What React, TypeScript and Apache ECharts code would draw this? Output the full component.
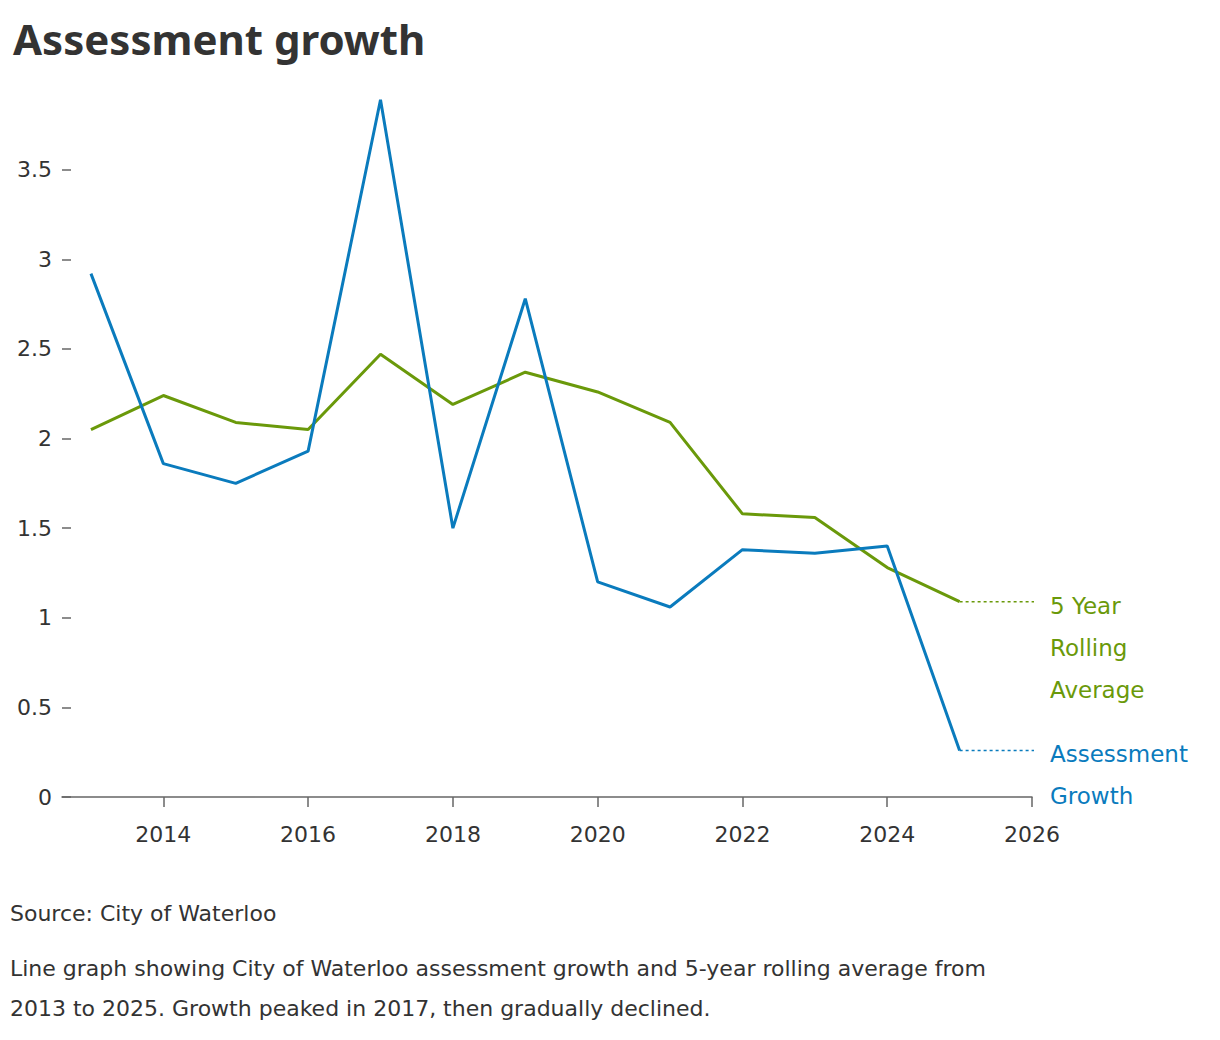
import React, { useEffect, useRef } from 'react';
import * as echarts from 'echarts';

const years = [2013, 2014, 2015, 2016, 2017, 2018, 2019, 2020, 2021, 2022, 2023, 2024, 2025];
const growth = [2.92, 1.86, 1.75, 1.93, 3.89, 1.5, 2.78, 1.2, 1.06, 1.38, 1.36, 1.4, 0.26];
const rolling = [2.05, 2.24, 2.09, 2.05, 2.47, 2.19, 2.37, 2.26, 2.09, 1.58, 1.56, 1.28, 1.09];
const yearTicks = [2014, 2016, 2018, 2020, 2022, 2024, 2026];
const leaderEnd = 2026.16;

const BLUE = '#0a7bbd';
const GREEN = '#6a990a';
const FONT = 'DejaVu Sans';

const App = () => {
  const chartRef = useRef<HTMLDivElement>(null);

  useEffect(() => {
    if (!chartRef.current) return;
    const chart = echarts.init(chartRef.current, null, { renderer: 'svg' });

    const last = years.length - 1;
    const leader = (vals: number[], color: string, text: string) => ({
      type: 'line',
      symbol: 'none',
      silent: true,
      lineStyle: { color, width: 1.5, type: [3, 3] },
      data: [[years[last], vals[last]], [leaderEnd, vals[last]]],
      endLabel: {
        show: true,
        formatter: text,
        color,
        fontFamily: FONT,
        fontSize: 23,
        lineHeight: 42,
        align: 'left',
        verticalAlign: 'top',
        distance: 16,
        offset: [0, -17],
      },
    });

    const option = {
      animation: false,
      textStyle: { fontFamily: FONT },
      title: {
        text: 'Assessment growth',
        left: 8,
        top: 12,
        textStyle: { fontFamily: 'Noto Sans', fontSize: 42, fontWeight: 'bold', color: '#333' },
      },
      graphic: [
        { type: 'text', left: 10, top: 902, style: { text: 'Source: City of Waterloo', fontFamily: FONT, fontSize: 22, fill: '#333' } },
        {
          type: 'text', left: 10, top: 948,
          style: {
            text: 'Line graph showing City of Waterloo assessment growth and 5-year rolling average from\n2013 to 2025. Growth peaked in 2017, then gradually declined.',
            fontFamily: FONT, fontSize: 22, lineHeight: 40, fill: '#333',
          },
        },
      ],
      grid: { left: 62, right: 188, top: 98, bottom: 243 },
      xAxis: {
        type: 'value',
        min: 2012.6,
        max: 2026,
        splitLine: { show: false },
        axisLine: { show: true, lineStyle: { color: '#666', width: 1.5 } },
        axisTick: { show: true, length: 10, customValues: yearTicks, lineStyle: { color: '#666', width: 1.5 } },
        axisLabel: {
          customValues: yearTicks,
          formatter: (v: number) => String(v),
          color: '#333', fontSize: 22, margin: 26, fontFamily: FONT,
        },
      },
      yAxis: {
        type: 'value',
        min: 0,
        max: 3.9,
        interval: 0.5,
        splitLine: { show: false },
        axisLine: { show: false },
        axisTick: { show: true, length: 9, inside: true, lineStyle: { color: '#666', width: 1.5 } },
        axisLabel: { showMaxLabel: false, color: '#333', fontSize: 22, margin: 10, fontFamily: FONT },
      },
      series: [
        {
          type: 'line',
          symbol: 'none',
          lineStyle: { color: GREEN, width: 3 },
          data: years.map((y, i) => [y, rolling[i]]),
        },
        {
          type: 'line',
          symbol: 'none',
          lineStyle: { color: BLUE, width: 3 },
          data: years.map((y, i) => [y, growth[i]]),
        },
        leader(rolling, GREEN, '5 Year\nRolling\nAverage'),
        leader(growth, BLUE, 'Assessment\nGrowth'),
      ],
    };

    chart.setOption(option as any);
    return () => chart.dispose();
  }, []);

  return <div ref={chartRef} style={{ position: 'absolute', left: 0, top: 0, width: 1220, height: 1040 }} />;
};

export default App;
